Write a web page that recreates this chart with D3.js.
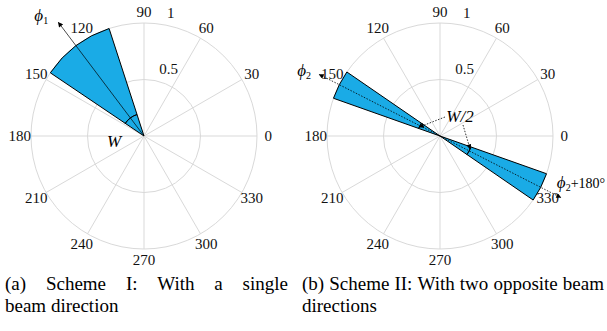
<!DOCTYPE html>
<html>
<head>
<meta charset="utf-8">
<script src="https://cdn.jsdelivr.net/npm/d3@7"></script>
<style>
  body { margin: 0; background: #fff; }
  svg { display: block; }
  svg text { font-family: 'Liberation Serif', 'Times New Roman', Times, 'DejaVu Serif', serif; }
</style>
</head>
<body>
<div id="chart"></div>
<script>
// polar grid
const angleTicks = [0, 30, 60, 90, 120, 150, 180, 210, 240, 270, 300, 330]
const radialTicks = [0.5, 1]

// scheme I: one beam, centre phi1, width W (deg)
const beamCentersA = [127]
const beamWidthA = 38

// scheme II: two opposite beams, each W/2 wide
const beamCentersB = [153, 333]
const beamWidthB = 15

const captionA = ['(a) Scheme I: With a single', 'beam direction']
const captionB = ['(b) Scheme II: With two opposite beam', 'directions']

const W = 607, H = 331
const R = 113
const gridColor = '#d9d9d9'
const beamColor = '#1aabe6'

const svg = d3.select('#chart').append('svg')
  .attr('width', W).attr('height', H)

const defs = svg.append('defs')
defs.append('marker')
  .attr('id', 'head')
  .attr('viewBox', '0 0 10 10')
  .attr('refX', 9).attr('refY', 5)
  .attr('markerWidth', 6).attr('markerHeight', 5)
  .attr('markerUnits', 'userSpaceOnUse')
  .attr('orient', 'auto')
  .append('path').attr('d', 'M0,0L10,5L0,10z').attr('fill', '#000')

// radius and angle scales (angle in d3 convention: clockwise from 12 o'clock)
const r = d3.scaleLinear().domain([0, 1]).range([0, R])
const a = d3.scaleLinear().domain([0, 360]).range([Math.PI / 2, Math.PI / 2 - 2 * Math.PI])
const pt = (deg, v) => d3.pointRadial(a(deg), r(v))

function polarFrame(cx, cy) {
  const g = svg.append('g').attr('transform', `translate(${cx},${cy})`)

  g.selectAll('line.spoke').data(angleTicks).join('line')
    .attr('class', 'spoke')
    .attr('x1', 0).attr('y1', 0)
    .attr('x2', d => pt(d, 1)[0]).attr('y2', d => pt(d, 1)[1])
    .attr('stroke', gridColor).attr('stroke-width', 1)

  g.selectAll('circle.ring').data(radialTicks).join('circle')
    .attr('class', 'ring')
    .attr('r', d => r(d))
    .attr('fill', 'none').attr('stroke', gridColor).attr('stroke-width', 1)

  return g
}

function frameLabels(g) {
  g.selectAll('text.ang').data(angleTicks).join('text')
    .attr('class', 'ang')
    .attr('x', d => pt(d, 1.1)[0]).attr('y', d => pt(d, 1.1)[1])
    .attr('text-anchor', 'middle').attr('dominant-baseline', 'central')
    .attr('font-size', 15).attr('fill', '#111')
    .text(d => d)

  // radial tick labels sit at 82 deg, just outside each ring
  g.selectAll('text.rad').data(radialTicks).join('text')
    .attr('class', 'rad')
    .attr('x', d => pt(82, d + 0.025)[0] + 7)
    .attr('y', d => pt(82, d + 0.025)[1] - 3)
    .attr('font-size', 15).attr('fill', '#111')
    .text(d => d)
}

function wedges(g, centers, width) {
  const arc = d3.arc().innerRadius(0).outerRadius(r(1))
  g.selectAll('path.beam').data(centers).join('path')
    .attr('class', 'beam')
    .attr('d', d => arc({ startAngle: a(d + width / 2), endAngle: a(d - width / 2) }))
    .attr('fill', beamColor).attr('stroke', '#000').attr('stroke-width', 1)
}

function widthArc(g, center, width, rad) {
  const arc = d3.arc().innerRadius(r(rad)).outerRadius(r(rad))
  g.append('path')
    .attr('d', arc({ startAngle: a(center + width / 2), endAngle: a(center - width / 2) }))
    .attr('fill', 'none').attr('stroke', '#000').attr('stroke-width', 0.9)
}

function phiLabel(g, x, y, sub, extra) {
  const t = g.append('text').attr('x', x).attr('y', y)
    .attr('font-size', 17).attr('font-style', 'italic').attr('fill', '#000')
  t.append('tspan').text('ϕ')
  t.append('tspan').attr('font-size', 10).attr('font-style', 'normal').attr('dy', 3).text(sub)
  if (extra) t.append('tspan').attr('font-style', 'normal').attr('font-size', 14).attr('dy', -3).text(extra)
}

// ---------- (a) ----------
const ga = polarFrame(144, 136)
wedges(ga, beamCentersA, beamWidthA)
frameLabels(ga)

const phi1 = beamCentersA[0]
ga.append('line')
  .attr('x1', 0).attr('y1', 0)
  .attr('x2', pt(phi1, 1.26)[0]).attr('y2', pt(phi1, 1.26)[1])
  .attr('stroke', '#000').attr('stroke-width', 0.7)
  .attr('marker-end', 'url(#head)')
widthArc(ga, phi1, beamWidthA, 0.2)
phiLabel(ga, pt(phi1, 1.26)[0] - 24, pt(phi1, 1.26)[1] - 1, '1')
ga.append('text')
  .attr('x', pt(190, 0.27)[0]).attr('y', pt(190, 0.27)[1])
  .attr('text-anchor', 'middle').attr('dominant-baseline', 'central')
  .attr('font-size', 17).attr('font-style', 'italic').text('W')

// ---------- (b) ----------
const gb = polarFrame(440, 136)
wedges(gb, beamCentersB, beamWidthB)
frameLabels(gb)

const phi2 = beamCentersB[0]
beamCentersB.forEach(c => {
  gb.append('line')
    .attr('x1', 0).attr('y1', 0)
    .attr('x2', pt(c, 1.2)[0]).attr('y2', pt(c, 1.2)[1])
    .attr('stroke', '#000').attr('stroke-width', 0.8)
    .attr('stroke-dasharray', '1.5,1.5')
    .attr('marker-end', 'url(#head)')
})
widthArc(gb, beamCentersB[0], beamWidthB, 0.2)
widthArc(gb, beamCentersB[1], beamWidthB, 0.29)

// W/2 label and its two pointers
const wLab = [20, -20]
gb.append('text')
  .attr('x', wLab[0]).attr('y', wLab[1])
  .attr('text-anchor', 'middle').attr('dominant-baseline', 'central')
  .attr('font-size', 17).attr('font-style', 'italic').text('W/2')
const tipUp = pt(beamCentersB[0] + beamWidthB / 4, 0.2)
const tipDn = pt(beamCentersB[1] + beamWidthB / 4, 0.29)
gb.append('line')
  .attr('x1', wLab[0] - 15).attr('y1', wLab[1] + 1)
  .attr('x2', tipUp[0]).attr('y2', tipUp[1])
  .attr('stroke', '#000').attr('stroke-width', 0.8).attr('stroke-dasharray', '1.5,1.5')
  .attr('marker-end', 'url(#head)')
gb.append('line')
  .attr('x1', wLab[0] + 3).attr('y1', wLab[1] + 9)
  .attr('x2', tipDn[0]).attr('y2', tipDn[1])
  .attr('stroke', '#000').attr('stroke-width', 0.8).attr('stroke-dasharray', '1.5,1.5')
  .attr('marker-end', 'url(#head)')

phiLabel(gb, pt(phi2, 1.2)[0] - 22, pt(phi2, 1.2)[1] + 2, '2')
phiLabel(gb, pt(beamCentersB[1], 1.2)[0] - 4, pt(beamCentersB[1], 1.2)[1] - 10, '2', '+180°')

// ---------- captions (first line justified) ----------
function caption(lines, x0, x1, y0) {
  const g = svg.append('g').attr('font-size', 19).attr('fill', '#000')
  lines.forEach((line, i) => {
    const y = y0 + i * 22
    if (i === lines.length - 1) {
      g.append('text').attr('x', x0).attr('y', y).text(line)
      return
    }
    const words = line.split(' ')
    const ts = words.map(w => g.append('text').attr('y', y).text(w))
    const widths = ts.map(t => t.node().getComputedTextLength())
    const gap = (x1 - x0 - d3.sum(widths)) / (words.length - 1)
    let x = x0
    ts.forEach((t, k) => { t.attr('x', x); x += widths[k] + gap })
  })
}
caption(captionA, 5, 288, 290)
caption(captionB, 302, 604, 290)
</script>
</body>
</html>
